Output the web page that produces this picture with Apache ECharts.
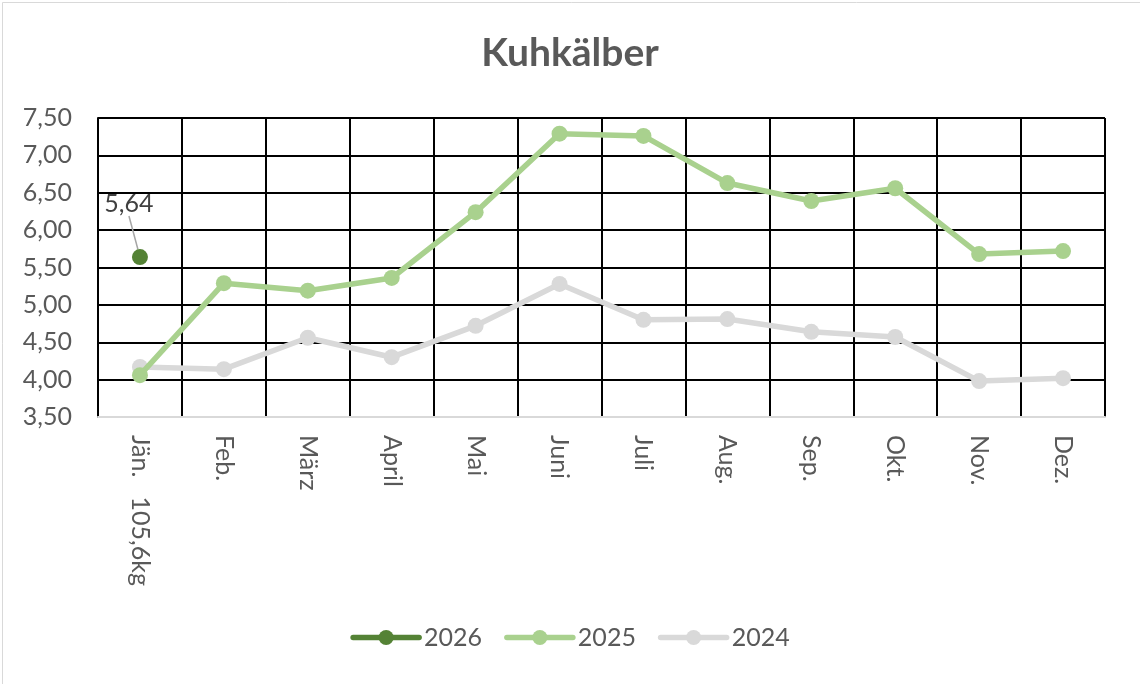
<!DOCTYPE html>
<html>
<head>
<meta charset="utf-8">
<script src="https://cdn.jsdelivr.net/npm/echarts@6/dist/echarts.min.js"></script>
<style>
html,body{margin:0;padding:0;background:#fff;}
#c{width:1140px;height:684px;}
</style>
</head>
<body>
<div id="c"></div>
<script>
const categories = ['Jän.   105,6kg','Feb.','März','April','Mai','Juni','Juli','Aug.','Sep.','Okt.','Nov.','Dez.'];
const values2026 = [5.64, null, null, null, null, null, null, null, null, null, null, null];
const values2025 = [4.06, 5.29, 5.19, 5.36, 6.24, 7.29, 7.26, 6.63, 6.39, 6.56, 5.68, 5.72];
const values2024 = [4.17, 4.14, 4.56, 4.30, 4.72, 5.28, 4.80, 4.81, 4.64, 4.57, 3.98, 4.02];
const title = 'Kuhkälber';

const FONT = 'Lato, "Open Sans", sans-serif';
const TXT = '#595959';

const chart = echarts.init(document.getElementById('c'), null, {renderer:'canvas'});
const fmt = v => v.toFixed(2).replace('.', ',');

chart.setOption({
  backgroundColor: '#fff',
  animation: false,
  graphic: [{
    type: 'rect', left: 0, top: 0, silent: true, z: -1,
    shape: {x: 0.5, y: 0.5, width: 1139, height: 683},
    style: {fill: 'none', stroke: '#d9d9d9', lineWidth: 1}
  }],
  title: {
    text: title, left: 'center', top: 29,
    textStyle: {fontFamily: FONT, fontSize: 39, fontWeight: 'bold', color: TXT}
  },
  legend: {
    bottom: 29, left: 'center',
    itemWidth: 66, itemHeight: 19, itemGap: 22,
    textStyle: {fontFamily: FONT, fontSize: 25, color: TXT},
    lineStyle: {width: 5.5, cap: 'round'},
    data: ['2026', '2025', '2024']
  },
  grid: {left: 98, right: 35, top: 118, bottom: 267, containLabel: false},
  xAxis: {
    type: 'category', data: categories, boundaryGap: true,
    axisLine: {show: true, lineStyle: {color: '#d9d9d9', width: 2}},
    axisTick: {show: false},
    splitLine: {show: true, lineStyle: {color: '#000', width: 2}},
    axisLabel: {rotate: -90, margin: 18, fontFamily: FONT, fontSize: 25, color: TXT, interval: 0}
  },
  yAxis: {
    type: 'value', min: 3.5, max: 7.5, interval: 0.5,
    axisLine: {show: true, lineStyle: {color: '#000', width: 2}},
    axisTick: {show: false},
    splitLine: {show: true, lineStyle: {color: '#000', width: 2}},
    axisLabel: {formatter: fmt, margin: 26, fontFamily: FONT, fontSize: 25, color: TXT}
  },
  series: [
    {
      name: '2024', type: 'line', data: values2024, z: 2,
      symbol: 'circle', symbolSize: 16,
      lineStyle: {color: '#d9d9d9', width: 5.5},
      itemStyle: {color: '#d9d9d9'}
    },
    {
      name: '2025', type: 'line', data: values2025, z: 3,
      symbol: 'circle', symbolSize: 16,
      lineStyle: {color: '#a9d18e', width: 5.5},
      itemStyle: {color: '#a9d18e'}
    },
    {
      name: '2026', type: 'line', data: values2026, z: 4,
      symbol: 'circle', symbolSize: 16,
      lineStyle: {color: '#548235', width: 5.5},
      itemStyle: {color: '#548235'},
      label: {show: true, position: 'top', formatter: p => fmt(p.value), fontFamily: FONT, fontSize: 25, color: '#404040'},
      labelLine: {show: true, lineStyle: {color: '#a6a6a6', width: 1.5}},
      labelLayout: {dx: -11, dy: -28}
    }
  ]
});
</script>
</body>
</html>
